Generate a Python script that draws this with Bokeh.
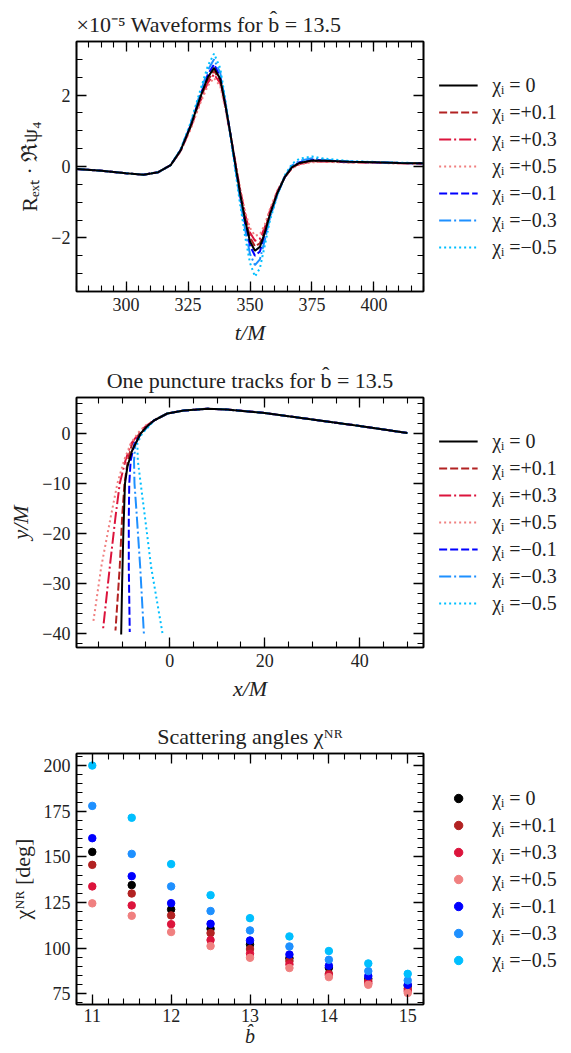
from bokeh.plotting import figure
from bokeh.layouts import column, row
from bokeh.models import (Legend, LegendItem, LinearAxis, SingleIntervalTicker,
                          Range1d, CustomJSTickFormatter)
from bokeh.embed import file_html
from bokeh.resources import INLINE

# ---------------- data ----------------
spin_labels = ["χᵢ = 0", "χᵢ =+0.1", "χᵢ =+0.3", "χᵢ =+0.5",
               "χᵢ =−0.1", "χᵢ =−0.3", "χᵢ =−0.5"]

# Waveforms (units of 1e-5), b = 13.5
wf_t = [280, 290, 300, 307, 313, 318, 322, 326, 330, 333, 335.5, 338, 340, 342, 344,
        346, 348, 350, 352, 354, 356, 358, 361, 364, 367, 370, 375, 380, 390, 400, 410, 420]
wf_0 = [-0.07, -0.12, -0.19, -0.23, -0.16, 0.04, 0.45, 1.12, 1.95, 2.5, 2.76, 2.45, 1.75, 0.95, 0.1,
        -0.75, -1.5, -2.1, -2.36, -2.25, -1.85, -1.35, -0.75, -0.3, -0.02, 0.1, 0.17, 0.16, 0.13, 0.12, 0.1, 0.09]
wf_p01 = [-0.07, -0.12, -0.19, -0.23, -0.16, 0.04, 0.44, 1.1, 1.9, 2.42, 2.68, 2.4, 1.72, 0.95, 0.12,
          -0.7, -1.42, -1.98, -2.24, -2.15, -1.78, -1.3, -0.72, -0.3, -0.03, 0.08, 0.15, 0.15, 0.12, 0.11, 0.1, 0.08]
wf_p03 = [-0.07, -0.12, -0.19, -0.23, -0.16, 0.04, 0.43, 1.07, 1.84, 2.35, 2.58, 2.33, 1.68, 0.94, 0.15,
          -0.65, -1.33, -1.85, -2.08, -2.02, -1.7, -1.25, -0.7, -0.3, -0.04, 0.07, 0.14, 0.14, 0.12, 0.11, 0.09, 0.08]
wf_p05 = [-0.07, -0.12, -0.19, -0.23, -0.16, 0.04, 0.42, 1.04, 1.78, 2.26, 2.48, 2.25, 1.63, 0.92, 0.16,
          -0.6, -1.25, -1.72, -1.94, -1.9, -1.62, -1.2, -0.68, -0.3, -0.05, 0.06, 0.12, 0.13, 0.11, 0.1, 0.09, 0.08]
wf_m01 = [-0.07, -0.12, -0.19, -0.23, -0.16, 0.04, 0.46, 1.15, 2.0, 2.58, 2.86, 2.52, 1.78, 0.95, 0.06,
          -0.82, -1.6, -2.22, -2.5, -2.38, -1.93, -1.4, -0.77, -0.3, 0.0, 0.12, 0.19, 0.17, 0.13, 0.12, 0.1, 0.09]
wf_m03 = [-0.07, -0.12, -0.19, -0.23, -0.16, 0.04, 0.47, 1.18, 2.07, 2.7, 3.0, 2.62, 1.82, 0.93, 0.0,
          -0.92, -1.75, -2.45, -2.76, -2.6, -2.05, -1.45, -0.8, -0.28, 0.03, 0.16, 0.23, 0.19, 0.14, 0.12, 0.1, 0.09]
wf_m05 = [-0.07, -0.12, -0.19, -0.23, -0.16, 0.04, 0.48, 1.22, 2.15, 2.82, 3.16, 2.75, 1.88, 0.9, -0.08,
          -1.05, -1.95, -2.7, -3.08, -2.85, -2.2, -1.52, -0.82, -0.25, 0.08, 0.22, 0.28, 0.22, 0.15, 0.13, 0.11, 0.09]
wf_series = [wf_0, wf_p01, wf_p03, wf_p05, wf_m01, wf_m03, wf_m05]

# Puncture tracks, b = 13.5
tr_x_0 = [50, 40, 30, 20, 12, 8, 3, -0.5, -3.3, -4.8, -6.1, -7.9, -8.9, -9.4, -9.75, -10.0, -10.2]
tr_y_0 = [0, 1.4, 2.7, 4.0, 4.7, 4.85, 4.5, 3.9, 2.5, 1.3, -0.1, -3.5, -6.8, -10.1, -20.1, -30, -40.3]
tr_x_p01 = [50, 40, 30, 20, 12, 8, 3, -0.5, -3.3, -4.9, -6.3, -7.9, -8.8, -9.5, -10.0, -10.5, -11.4]
tr_y_p01 = [0, 1.4, 2.7, 4.0, 4.7, 4.85, 4.5, 3.9, 2.5, 1.3, -0.05, -2.1, -5.5, -10.1, -16.8, -26.8, -39.5]
tr_x_p03 = [50, 40, 30, 20, 12, 8, 3, -0.5, -3.3, -5.0, -6.4, -8.1, -9.3, -10.5, -11.4, -12.6, -14.0]
tr_y_p03 = [0, 1.4, 2.7, 4.0, 4.7, 4.85, 4.5, 3.9, 2.5, 1.4, 0.0, -2.1, -5.5, -10.1, -16.8, -26.8, -39.1]
tr_x_p05 = [50, 40, 30, 20, 12, 8, 3, -0.5, -3.3, -5.1, -6.5, -8.2, -9.6, -11.0, -12.4, -14.4, -16.1]
tr_y_p05 = [0, 1.4, 2.7, 4.0, 4.7, 4.85, 4.5, 3.9, 2.5, 1.5, 0.2, -2.1, -5.5, -10.1, -16.8, -26.8, -38.0]
tr_x_m01 = [50, 40, 30, 20, 12, 8, 3, -0.5, -3.3, -4.8, -6.0, -7.4, -8.2, -8.5, -8.6, -8.6, -8.4]
tr_y_m01 = [0, 1.4, 2.7, 4.0, 4.7, 4.85, 4.5, 3.9, 2.5, 1.2, -0.1, -2.1, -5.5, -10.1, -16.8, -26.8, -39.8]
tr_x_m03 = [50, 40, 30, 20, 12, 8, 3, -0.5, -3.3, -4.7, -5.9, -7.2, -7.5, -7.4, -6.9, -6.2, -5.4]
tr_y_m03 = [0, 1.4, 2.7, 4.0, 4.7, 4.85, 4.5, 3.9, 2.5, 1.2, -0.1, -2.1, -5.5, -10.1, -16.8, -26.8, -40.5]
tr_x_m05 = [50, 40, 30, 20, 12, 8, 3, -0.5, -3.3, -4.6, -5.8, -6.8, -6.7, -6.1, -5.2, -3.9, -1.5]
tr_y_m05 = [0, 1.4, 2.7, 4.0, 4.7, 4.85, 4.5, 3.9, 2.5, 1.1, -0.1, -2.1, -5.5, -10.1, -16.8, -26.8, -40.1]
tr_series = [(tr_x_0, tr_y_0), (tr_x_p01, tr_y_p01), (tr_x_p03, tr_y_p03), (tr_x_p05, tr_y_p05),
             (tr_x_m01, tr_y_m01), (tr_x_m03, tr_y_m03), (tr_x_m05, tr_y_m05)]

# Scattering angles [deg]
b_hat = [11, 11.5, 12, 12.5, 13, 13.5, 14, 14.5, 15]
chi_0 = [152.7, 134.5, 121.2, 110.6, 102.0, 94.5, 89.2, 83.2, 79.4]
chi_p01 = [145.6, 129.9, 117.9, 108.2, 99.5, 92.9, 85.9, 81.9, 77.7]
chi_p03 = [133.8, 123.4, 113.1, 104.4, 96.9, 91.1, 85.2, 80.8, 76.5]
chi_p05 = [124.5, 117.7, 108.8, 101.1, 94.7, 89.1, 84.1, 79.9, 75.4]
chi_m01 = [160.2, 139.4, 124.6, 113.3, 104.2, 96.5, 90.3, 84.7, 79.9]
chi_m03 = [177.9, 151.6, 133.8, 120.3, 109.7, 100.9, 93.6, 87.4, 82.3]
chi_m05 = [200.0, 171.4, 146.0, 129.0, 116.4, 106.4, 98.4, 91.6, 85.9]
chi_series = [chi_0, chi_p01, chi_p03, chi_p05, chi_m01, chi_m03, chi_m05]

# ---------------- style ----------------
colors = ["#000000", "#b22222", "#dc143c", "#f08080", "#0000ff", "#1e90ff", "#00bfff"]
dashes = ["solid", "8 3", "12 3 2 3", "2 3", "8 3", "12 3 2 3", "2 3"]
draw_order = [1, 2, 3, 4, 5, 6, 0]
FONT = "Liberation Serif"
FS = "18px"
TXT = "#222222"
MAIN_W = 428
LEG_W = 571 - MAIN_W


def minus(v):
    return ("%g" % v).replace("-", "−")


def style_axis(ax, ticker, labels=True, ticks_vals=None):
    ax.ticker = ticker
    ax.major_tick_in = 10
    ax.major_tick_out = 0
    ax.minor_tick_in = 6
    ax.minor_tick_out = 0
    ax.axis_line_width = 1.6
    ax.axis_line_color = "black"
    ax.major_tick_line_width = 1.3
    ax.minor_tick_line_width = 1.1
    ax.major_tick_line_color = "black"
    ax.minor_tick_line_color = "black"
    ax.major_label_text_font = FONT
    ax.major_label_text_font_size = FS
    ax.major_label_text_color = TXT
    ax.axis_label_text_font = FONT
    ax.axis_label_text_font_size = "22px"
    ax.axis_label_text_font_style = "normal"
    ax.axis_label_text_color = TXT
    ax.axis_label_standoff = 6
    ax.major_label_standoff = 6
    if ticks_vals is not None:
        ax.major_label_overrides = {v: minus(v) for v in ticks_vals if v < 0}
    if not labels:
        ax.formatter = CustomJSTickFormatter(code="return ''")
        ax.major_label_standoff = 0


def make_fig(title, xr, yr, xtick, ytick, xlabel, ylabel, xvals, yvals, h, top, bottom,
             talign="center"):
    p = figure(width=MAIN_W, height=h, output_backend="svg", toolbar_location=None,
               x_range=Range1d(*xr), y_range=Range1d(*yr),
               min_border_left=76, min_border_right=5, min_border_top=top,
               min_border_bottom=bottom, x_axis_location=None, y_axis_location=None)
    p.grid.visible = False
    p.outline_line_color = "black"
    p.outline_line_width = 1.6
    xb = LinearAxis(axis_label=xlabel)
    style_axis(xb, SingleIntervalTicker(interval=xtick[0], num_minor_ticks=xtick[1]), True, xvals)
    yl = LinearAxis(axis_label=ylabel)
    style_axis(yl, SingleIntervalTicker(interval=ytick[0], num_minor_ticks=ytick[1]), True, yvals)
    xt = LinearAxis()
    style_axis(xt, SingleIntervalTicker(interval=xtick[0], num_minor_ticks=xtick[1]), False)
    yr_ = LinearAxis()
    style_axis(yr_, SingleIntervalTicker(interval=ytick[0], num_minor_ticks=ytick[1]), False)
    p.add_layout(xb, "below")
    p.add_layout(yl, "left")
    p.add_layout(xt, "above")
    p.add_layout(yr_, "right")
    p.title.text = title
    p.title.align = talign
    p.title.text_font = FONT
    p.title.text_font_size = "22px"
    p.title.text_font_style = "normal"
    p.title.text_color = TXT
    return p, xb, yl


def legend_fig(h, top, frame_h, kind, series):
    # legend panel; its proxy renderers use the real series but lie outside its (empty) view
    bottom = int(round(h - 2 * (top + frame_h / 2.0)))
    q = figure(width=LEG_W, height=h, output_backend="svg", toolbar_location=None,
               min_border_left=0, min_border_right=4, min_border_top=0,
               min_border_bottom=bottom, x_axis_location=None, y_axis_location=None,
               x_range=Range1d(-2, -1), y_range=Range1d(-2000, -1000))
    q.grid.visible = False
    q.outline_line_color = None
    items = []
    for i in range(7):
        xs, ys = series[i]
        if kind == "line":
            r = q.line(xs, ys, line_color=colors[i], line_width=2, line_dash=dashes[i])
        else:
            r = q.scatter(xs, ys, size=7.5, fill_color=colors[i], line_color=colors[i])
        items.append(LegendItem(label=spin_labels[i], renderers=[r]))
    leg = Legend(items=items, location="center", padding=0, margin=0,
                 spacing=4, glyph_width=39, glyph_height=21, label_height=21,
                 label_standoff=15, border_line_alpha=0, background_fill_alpha=0,
                 label_text_font=FONT, label_text_font_size="20px", label_text_color=TXT)
    q.add_layout(leg)
    return q


# ---- panel 1: waveforms ----
H1, T1, B1 = 356, 41, 65
p1, xb1, yl1 = make_fig("×10⁻⁵  Waveforms for b̂ = 13.5", (280, 420), (-3.5, 3.5), (25, 5), (2, 4),
                        "t/M", "Rₑₓₜ · ℜψ₄", [300, 325, 350, 375, 400], [-2, 0, 2],
                        H1, T1, B1, "left")
xb1.axis_label_text_font_style = "italic"
for i in draw_order:
    p1.line(wf_t, wf_series[i], line_color=colors[i], line_width=2, line_dash=dashes[i])
l1 = legend_fig(H1, T1, H1 - T1 - B1, "line", [(wf_t, s) for s in wf_series])

# ---- panel 2: tracks ----
H2, T2, B2 = 356, 41, 65
p2, xb2, yl2 = make_fig("One puncture tracks for b̂ = 13.5", (-19.6, 53.4), (-42.9, 7.1), (20, 4), (10, 5),
                        "x/M", "y/M", [0, 20, 40], [-40, -30, -20, -10, 0], H2, T2, B2)
xb2.axis_label_text_font_style = "italic"
yl2.axis_label_text_font_style = "italic"
for i in draw_order:
    xs, ys = tr_series[i]
    p2.line(xs, ys, line_color=colors[i], line_width=2, line_dash=dashes[i])
l2 = legend_fig(H2, T2, H2 - T2 - B2, "line", tr_series)

# ---- panel 3: scattering angles ----
H3, T3, B3 = 341, 41, 49
p3, xb3, yl3 = make_fig("Scattering angles χᴺᴿ", (10.8, 15.2), (69.1, 206.6), (1, 5), (25, 5),
                        "b̂", "χᴺᴿ [deg]", [11, 12, 13, 14, 15], [75, 100, 125, 150, 175, 200],
                        H3, T3, B3)
xb3.axis_label_text_font_style = "italic"
xb3.axis_label_text_font_size = "20px"
xb3.axis_label_standoff = 0
xb3.major_label_standoff = 4
for i in range(7):
    p3.scatter(b_hat, chi_series[i], size=7.5, fill_color=colors[i], line_color=colors[i])
l3 = legend_fig(H3, T3, H3 - T3 - B3, "scatter", [(b_hat, s) for s in chi_series])

layout = column(row(p1, l1, spacing=0), row(p2, l2, spacing=0), row(p3, l3, spacing=0), spacing=0)
open("out.html", "w").write(file_html(layout, INLINE))
